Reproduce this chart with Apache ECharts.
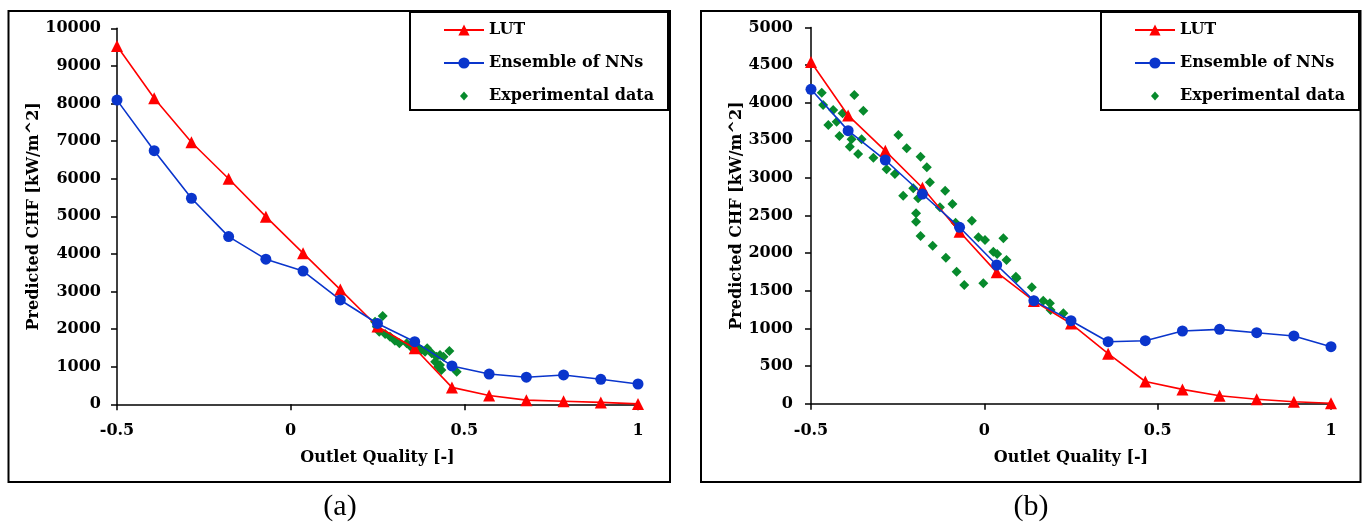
<!DOCTYPE html>
<html>
<head>
<meta charset="utf-8">
<script src="https://cdn.jsdelivr.net/npm/echarts@6/dist/echarts.min.js"></script>
<style>
html,body{margin:0;padding:0;background:#fff;}
#chart{width:1362px;height:524px;}
</style>
</head>
<body>
<div id="chart"></div>
<script>
// ---- data ----
const xQuality = [-0.5, -0.3929, -0.2857, -0.1786, -0.0714, 0.0357, 0.1429, 0.25, 0.3571, 0.4643, 0.5714, 0.6786, 0.7857, 0.8929, 1.0];

const lutA = [9530, 8140, 6970, 6000, 4990, 4020, 3050, 2070, 1490, 450, 235, 110, 80, 50, 10];
const nnA  = [8090, 6745, 5480, 4460, 3860, 3545, 2775, 2150, 1665, 1020, 805, 720, 780, 665, 540];
const expA = [
  [0.265, 2348], [0.243, 2197], [0.248, 2064], [0.255, 1931], [0.272, 1870],
  [0.286, 1798], [0.300, 1691], [0.313, 1622], [0.334, 1622], [0.346, 1532],
  [0.363, 1532], [0.377, 1444], [0.387, 1399], [0.393, 1489], [0.406, 1356],
  [0.420, 1266], [0.430, 1311], [0.416, 1133], [0.425, 1000], [0.434, 912],
  [0.430, 1045], [0.457, 1418], [0.478, 867], [0.440, 1266]
];

const lutB = [4540, 3830, 3360, 2870, 2285, 1745, 1365, 1065, 665, 295, 190, 105, 60, 25, 5];
const nnB  = [4177, 3628, 3238, 2786, 2344, 1843, 1369, 1103, 824, 837, 966, 988, 943, 900, 757];
const expB = [
  [-0.469, 4132], [-0.465, 3969], [-0.375, 4102], [-0.349, 3893], [-0.436, 3902],
  [-0.409, 3859], [-0.450, 3703], [-0.426, 3747], [-0.418, 3557], [-0.383, 3513],
  [-0.388, 3415], [-0.354, 3513], [-0.364, 3318], [-0.320, 3269], [-0.282, 3115],
  [-0.258, 3052], [-0.248, 3570], [-0.224, 3394], [-0.184, 3282], [-0.166, 3141],
  [-0.157, 2942], [-0.205, 2862], [-0.234, 2764], [-0.191, 2729], [-0.197, 2530],
  [-0.197, 2418], [-0.184, 2228], [-0.149, 2099], [-0.113, 2830], [-0.092, 2653],
  [-0.128, 2610], [-0.083, 2405], [-0.111, 1940], [-0.080, 1754], [-0.058, 1577],
  [-0.036, 2432], [-0.017, 2211], [0.002, 2175], [-0.003, 1600], [0.026, 2020],
  [0.037, 1989], [0.055, 2198], [0.064, 1909], [0.091, 1688], [0.093, 1666],
  [0.137, 1547], [0.170, 1369], [0.189, 1334], [0.191, 1245], [0.228, 1201]
];

const seriesNames = ['LUT', 'Ensemble of NNs', 'Experimental data'];
const xTitle = 'Outlet Quality [-]';
const yTitle = 'Predicted CHF [kW/m^2]';
const panelLabels = ['(a)', '(b)'];

// ---- styles ----
const FONT = 'DejaVu Serif';
const RED = '#ff0000', BLUE = '#0a35cc', GREEN = '#078a2c';
const zip = (xs, ys) => xs.map((x, i) => [x, ys[i]]);

const txt = { fontFamily: FONT, fontWeight: 'bold', fontSize: 16, color: '#000', lineHeight: 16 };
const plainNum = v => String(v);
function xAxisOf(gi) {
  return {
    gridIndex: gi, type: 'value', min: -0.5, max: 1, interval: 0.5,
    name: xTitle, nameLocation: 'middle', nameGap: 46,
    nameTextStyle: txt,
    axisLine: { show: true, onZero: false, lineStyle: { color: '#000', width: 1.5 } },
    axisTick: { show: true, inside: false, length: 6, lineStyle: { color: '#000', width: 1.5 } },
    axisLabel: Object.assign({ margin: 19, formatter: plainNum }, txt),
    splitLine: { show: false }
  };
}
function yAxisOf(gi, max, interval, gap, margin) {
  return {
    gridIndex: gi, type: 'value', min: 0, max: max, interval: interval,
    name: yTitle, nameLocation: 'middle', nameGap: gap,
    nameTextStyle: txt,
    axisLine: { show: true, onZero: false, lineStyle: { color: '#000', width: 1.5 } },
    axisTick: { show: true, inside: false, length: 6, lineStyle: { color: '#000', width: 1.5 } },
    axisLabel: Object.assign({ margin: margin, formatter: plainNum }, txt),
    splitLine: { show: false }
  };
}
function lineSeries(name, gi, data, color, symbol, size) {
  return {
    name: name, type: 'line', xAxisIndex: gi, yAxisIndex: gi, data: data,
    symbol: symbol, symbolSize: size, showAllSymbol: true,
    lineStyle: { color: color, width: 1.6 },
    itemStyle: { color: color, opacity: 1 },
    emphasis: { disabled: true }, animation: false
  };
}
function scatterSeries(name, gi, data) {
  return {
    name: name, type: 'scatter', xAxisIndex: gi, yAxisIndex: gi, data: data,
    symbol: 'diamond', symbolSize: 10,
    itemStyle: { color: GREEN, opacity: 1 },
    emphasis: { disabled: true }, animation: false
  };
}
function legendOf(left) {
  return {
    left: left, top: 17, orient: 'vertical',
    itemWidth: 40, itemHeight: 14, itemGap: 17,
    textStyle: txt, selectedMode: false, symbolKeepAspect: true,
    data: [
      { name: seriesNames[0] },
      { name: seriesNames[1] },
      { name: seriesNames[2], icon: 'path://M0,-4.5L4,0L0,4.5L-4,0Z M0,-7 M0,7' }
    ]
  };
}

const chart = echarts.init(document.getElementById('chart'), null, { renderer: 'canvas' });
chart.setOption({
  animation: false,
  backgroundColor: '#fff',
  grid: [
    { left: 117, top: 28.3, width: 521, height: 376 },
    { left: 811, top: 27.4, width: 520, height: 376.3 }
  ],
  xAxis: [xAxisOf(0), xAxisOf(1)],
  yAxis: [yAxisOf(0, 10000, 1000, 70, 16), yAxisOf(1, 5000, 500, 63, 18)],
  legend: [legendOf(438), legendOf(1129)],
  series: [
    lineSeries(seriesNames[0], 0, zip(xQuality, lutA), RED, 'triangle', 12),
    lineSeries(seriesNames[1], 0, zip(xQuality, nnA), BLUE, 'circle', 11),
    scatterSeries(seriesNames[2], 0, expA),
    lineSeries(seriesNames[0], 1, zip(xQuality, lutB), RED, 'triangle', 12),
    lineSeries(seriesNames[1], 1, zip(xQuality, nnB), BLUE, 'circle', 11),
    scatterSeries(seriesNames[2], 1, expB)
  ],
  graphic: [
    { type: 'rect', shape: { x: 8.5, y: 11, width: 661.5, height: 471 }, style: { fill: 'none', stroke: '#000', lineWidth: 2 }, z: 100 },
    { type: 'rect', shape: { x: 701, y: 11, width: 659.5, height: 471 }, style: { fill: 'none', stroke: '#000', lineWidth: 2 }, z: 100 },
    { type: 'rect', shape: { x: 410, y: 12, width: 258, height: 98 }, style: { fill: 'none', stroke: '#000', lineWidth: 2 }, z: 100 },
    { type: 'rect', shape: { x: 1101, y: 12, width: 258, height: 98 }, style: { fill: 'none', stroke: '#000', lineWidth: 2 }, z: 100 },
    { type: 'text', x: 340, y: 507, style: { text: panelLabels[0], font: '30px "Liberation Serif"', fill: '#000', textAlign: 'center', textVerticalAlign: 'middle' } },
    { type: 'text', x: 1031, y: 507, style: { text: panelLabels[1], font: '30px "Liberation Serif"', fill: '#000', textAlign: 'center', textVerticalAlign: 'middle' } }
  ]
});
</script>
</body>
</html>
